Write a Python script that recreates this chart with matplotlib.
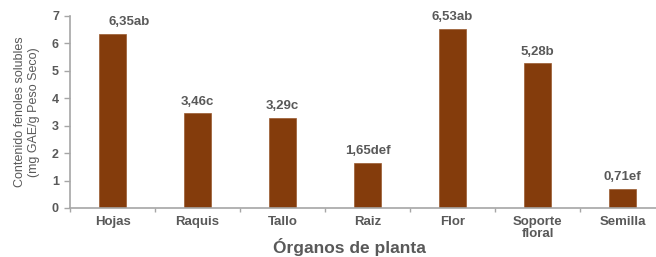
import matplotlib
matplotlib.use("Agg")
import matplotlib.pyplot as plt
import numpy as np

categories = ["Hojas", "Raquis", "Tallo", "Raiz", "Flor", "Soporte\nfloral", "Semilla"]
values = [6.35, 3.46, 3.29, 1.65, 6.53, 5.28, 0.71]
labels = ["6,35ab", "3,46c", "3,29c", "1,65def", "6,53ab", "5,28b", "0,71ef"]
yticks = [0, 1, 2, 3, 4, 5, 6, 7]

plt.rcParams['font.family'] = ['Liberation Sans', 'DejaVu Sans']
gray = "#595959"
spine = "#A6A6A6"
bar_color = "#843C0C"

fig = plt.figure(figsize=(6.56, 2.57), dpi=100)
W, H = 656, 257
left, right, bottom, top = 70, 665, 208, 16
ax = fig.add_axes([left / W, (H - bottom) / H, (right - left) / W, (bottom - top) / H])

x = np.arange(len(categories))
ax.bar(x, values, width=0.32, color=bar_color, edgecolor="#9a5a30", linewidth=0.5, zorder=2)
for i, (xi, v, lab) in enumerate(zip(x, values, labels)):
    dx = 12 if i == 0 else 0
    ax.annotate(lab, (xi, v), xytext=(dx, 4), textcoords="offset points",
                ha="center", va="bottom", fontsize=9.5, fontweight="bold", color=gray)

ax.set_xlim(-0.5, 6.5)
ax.set_ylim(0, 7)
ax.set_yticks(yticks)
ax.set_yticklabels([str(t) for t in yticks], fontsize=9, fontweight="bold", color=gray)
ax.set_xticks(x)
ax.set_xticklabels(categories, fontsize=9.5, fontweight="bold", color=gray, linespacing=1.0)
ax.set_xticks(np.arange(-0.5, 7, 1), minor=True)
ax.tick_params(axis="x", which="major", length=0, pad=6)
ax.tick_params(axis="x", which="minor", length=3, color=spine, width=1)
ax.tick_params(axis="y", length=4, color=spine, width=1, pad=4)

for s in ["top", "right"]:
    ax.spines[s].set_visible(False)
for s in ["left", "bottom"]:
    ax.spines[s].set_color(spine)
    ax.spines[s].set_linewidth(1.2)

ax.set_ylabel("Contenido fenoles solubles\n(mg GAE/g Peso Seco)", fontsize=9, color=gray,
              linespacing=1.25)
ax.yaxis.set_label_coords(-0.05, 0.5)
ax.set_xlabel("Órganos de planta", fontsize=12.5, fontweight="bold", color=gray)
ax.xaxis.set_label_coords(0.469, -0.155)

fig.savefig("out.png", dpi=100)
